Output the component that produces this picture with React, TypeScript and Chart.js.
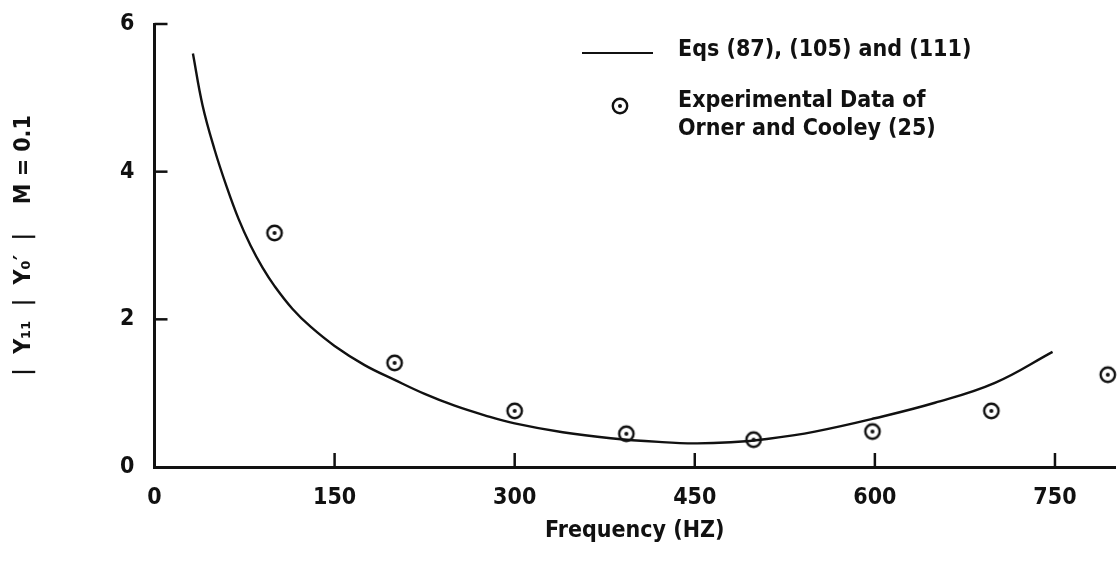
import React, { useEffect, useRef } from "react";
import { Chart, registerables } from "chart.js";

Chart.register(...registerables);

// Theory curve: Eqs (87), (105) and (111)
const curveFreq = [32, 40, 50, 60, 70, 80, 90, 100, 115, 130, 150, 175, 200, 225, 250, 275, 300, 340, 380, 420, 450, 480, 510, 550, 600, 650, 700, 748];
const curveValue = [5.6, 4.9, 4.3, 3.8, 3.36, 3.0, 2.7, 2.45, 2.14, 1.9, 1.64, 1.38, 1.18, 0.99, 0.83, 0.7, 0.59, 0.47, 0.39, 0.34, 0.32, 0.335, 0.38, 0.48, 0.66, 0.87, 1.14, 1.56];

// Experimental data of Orner and Cooley (25)
const expFreq = [100, 200, 300, 393, 499, 598, 697, 794];
const expValue = [3.17, 1.41, 0.76, 0.45, 0.37, 0.48, 0.76, 1.25];

const xTickValues = [0, 150, 300, 450, 600, 750];
const yTickValues = [0, 2, 4, 6];

const legendLine = "Eqs (87), (105) and (111)";
const legendPoint = ["Experimental Data of", "Orner and Cooley (25)"];
const xTitle = "Frequency (HZ)";
const yTitle = "|  Y₁₁  |  Y₀′  |    M = 0.1";

const INK = "#111111";
const FONT = "'DejaVu Sans Condensed', 'DejaVu Sans', sans-serif";
const WEIGHT = "bold";

function makeMarker(): HTMLCanvasElement {
  const c = document.createElement("canvas");
  c.width = 22;
  c.height = 22;
  const g = c.getContext("2d")!;
  g.fillStyle = "#ffffff";
  g.beginPath();
  g.arc(11, 11, 7.2, 0, Math.PI * 2);
  g.fill();
  g.lineWidth = 2.4;
  g.strokeStyle = INK;
  g.stroke();
  g.fillStyle = INK;
  g.beginPath();
  g.arc(11, 11, 2, 0, Math.PI * 2);
  g.fill();
  return c;
}

export default function App() {
  const ref = useRef<HTMLCanvasElement | null>(null);

  useEffect(() => {
    document.body.style.margin = "0";
    document.body.style.background = "#ffffff";
    const canvas = ref.current;
    if (!canvas) return;
    const marker = makeMarker();

    const innerTicks = {
      id: "innerTicks",
      afterDraw(chart: any) {
        const { ctx, chartArea } = chart;
        const xs = chart.scales.x;
        const ys = chart.scales.y;
        ctx.save();
        ctx.strokeStyle = INK;
        ctx.lineWidth = 2.5;
        xs.ticks.forEach((t: any) => {
          if (t.value === 0) return;
          const px = xs.getPixelForValue(t.value);
          ctx.beginPath();
          ctx.moveTo(px, chartArea.bottom);
          ctx.lineTo(px, chartArea.bottom - 14);
          ctx.stroke();
        });
        ys.ticks.forEach((t: any) => {
          if (t.value === 0) return;
          const py = ys.getPixelForValue(t.value);
          ctx.beginPath();
          ctx.moveTo(chartArea.left, py);
          ctx.lineTo(chartArea.left + 13, py);
          ctx.stroke();
        });
        ctx.restore();
      },
    };

    const legendPlugin = {
      id: "insideLegend",
      afterDraw(chart: any) {
        const { ctx } = chart;
        ctx.save();
        ctx.strokeStyle = INK;
        ctx.lineWidth = 2.2;
        ctx.beginPath();
        ctx.moveTo(582, 53);
        ctx.lineTo(653, 53);
        ctx.stroke();
        ctx.drawImage(marker, 620 - 11, 106 - 11);
        ctx.fillStyle = INK;
        ctx.font = `${WEIGHT} 23px ${FONT}`;
        ctx.textAlign = "left";
        ctx.textBaseline = "middle";
        ctx.fillText(legendLine, 678, 50);
        ctx.fillText(legendPoint[0], 678, 101);
        ctx.fillText(legendPoint[1], 678, 129);
        ctx.restore();
      },
    };

    const font = { family: FONT, size: 23, weight: WEIGHT as any };

    const chart = new Chart(canvas, {
      type: "scatter",
      data: {
        datasets: [
          {
            label: legendLine,
            type: "line",
            data: curveFreq.map((f, i) => ({ x: f, y: curveValue[i] })),
            borderColor: INK,
            borderWidth: 2.4,
            pointRadius: 0,
            tension: 0.4,
            fill: false,
          } as any,
          {
            label: legendPoint.join(" "),
            data: expFreq.map((f, i) => ({ x: f, y: expValue[i] })),
            pointStyle: marker,
            pointRadius: 1,
            pointBorderWidth: 0,
            clip: false,
          } as any,
        ],
      },
      options: {
        responsive: false,
        animation: false,
        layout: { padding: { top: 24, right: 1.5, left: 0, bottom: 0 } },
        plugins: {
          legend: { display: false },
          tooltip: { enabled: false },
        },
        scales: {
          x: {
            type: "linear",
            min: 0,
            max: 800,
            afterFit(scale: any) {
              scale.height = 94;
              scale.paddingLeft = 0;
              scale.paddingRight = 0;
            },
            afterBuildTicks(scale: any) {
              scale.ticks = xTickValues.map((v) => ({ value: v }));
            },
            grid: { display: false },
            border: { display: true, color: INK, width: 3 },
            ticks: {
              color: INK,
              font,
              padding: 9,
              maxRotation: 0,
              autoSkip: false,
            },
            title: {
              display: true,
              text: xTitle,
              color: INK,
              font,
              padding: { top: 0, bottom: 16 },
            },
          },
          y: {
            type: "linear",
            min: 0,
            max: 6,
            afterFit(scale: any) {
              scale.width = 154.5;
              scale.paddingTop = 0;
              scale.paddingBottom = 0;
            },
            afterBuildTicks(scale: any) {
              scale.ticks = yTickValues.map((v) => ({ value: v }));
            },
            grid: { display: false },
            border: { display: true, color: INK, width: 3 },
            ticks: {
              color: INK,
              font,
              padding: 12,
              autoSkip: false,
            },
            title: {
              display: true,
              text: yTitle,
              color: INK,
              font,
              padding: { top: 10, bottom: 0 },
            },
          },
        },
      },
      plugins: [innerTicks, legendPlugin],
    });

    return () => chart.destroy();
  }, []);

  return (
    <div style={{ width: 1119, height: 561, background: "#ffffff" }}>
      <canvas ref={ref} width={1119} height={561} style={{ display: "block" }} />
    </div>
  );
}
